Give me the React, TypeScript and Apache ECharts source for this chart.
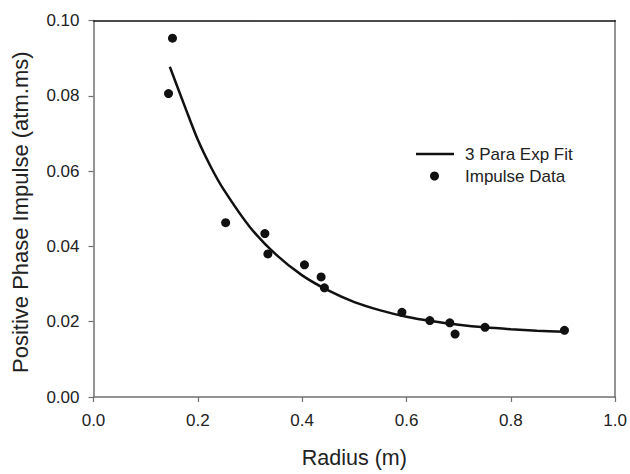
import React, { useEffect, useRef } from "react";
import * as echarts from "echarts";

const impulseRadius = [0.1514, 0.1438, 0.2533, 0.3285, 0.3343, 0.4044, 0.4363, 0.4426, 0.5912, 0.6447, 0.683, 0.6931, 0.7505, 0.9028];
const impulseValue = [0.0953, 0.0806, 0.0463, 0.0434, 0.038, 0.0351, 0.0319, 0.029, 0.0225, 0.0203, 0.0197, 0.0167, 0.0185, 0.0177];

const fitRadius = [0.1463, 0.175, 0.2, 0.225, 0.25, 0.3, 0.35, 0.4, 0.45, 0.5, 0.55, 0.6, 0.65, 0.7, 0.75, 0.8, 0.85, 0.9028];
const fitValue = [0.0877, 0.0772, 0.0683, 0.0611, 0.055, 0.0451, 0.0378, 0.0323, 0.0283, 0.0252, 0.023, 0.0213, 0.0201, 0.0192, 0.0185, 0.018, 0.0176, 0.0173];

const xTicks = [0, 0.2, 0.4, 0.6, 0.8, 1.0];
const yTicks = [0, 0.02, 0.04, 0.06, 0.08, 0.1];

const seriesNames = ["3 Para Exp Fit", "Impulse Data"];

const FONT = "'Liberation Sans', Arial, sans-serif";
const AXIS_GRAY = "#707070";
const INK = "#111111";

export default function App() {
  const ref = useRef<HTMLDivElement>(null);
  useEffect(() => {
    if (!ref.current) return;
    const chart = echarts.init(ref.current, undefined, { renderer: "svg" });
    chart.setOption({
      animation: false,
      backgroundColor: "#ffffff",
      textStyle: { fontFamily: FONT },
      grid: { left: 93.5, right: 13.5, top: 20.5, bottom: 71.5, containLabel: false },
      xAxis: [
        {
          type: "value",
          min: xTicks[0],
          max: xTicks[xTicks.length - 1],
          interval: 0.2,
          name: "Radius (m)",
          nameLocation: "middle",
          nameGap: 50,
          nameTextStyle: { fontSize: 21.5, color: "#222", fontFamily: FONT },
          axisLine: { show: true, onZero: false, lineStyle: { color: AXIS_GRAY, width: 1.5 } },
          axisTick: { show: true, inside: false, length: 5, lineStyle: { color: AXIS_GRAY, width: 1.2 } },
          axisLabel: { fontSize: 17, color: "#222", margin: 15, fontFamily: FONT, formatter: (v: number) => v.toFixed(1) },
          splitLine: { show: false },
        },
        {
          type: "value",
          position: "top",
          min: 0,
          max: 1,
          axisLine: { show: true, onZero: false, lineStyle: { color: "#111", width: 1.5 } },
          axisTick: { show: false },
          axisLabel: { show: false },
          splitLine: { show: false },
        },
      ],
      yAxis: [
        {
          type: "value",
          min: yTicks[0],
          max: yTicks[yTicks.length - 1],
          interval: 0.02,
          name: "Positive Phase Impulse (atm.ms)",
          nameLocation: "middle",
          nameGap: 62,
          nameTextStyle: { fontSize: 22, color: "#222", fontFamily: FONT, padding: [0, 7, 0, 0] },
          axisLine: { show: true, onZero: false, lineStyle: { color: AXIS_GRAY, width: 1.5 } },
          axisTick: { show: true, inside: false, length: 5, lineStyle: { color: AXIS_GRAY, width: 1.2 } },
          axisLabel: { fontSize: 17, color: "#222", margin: 14, fontFamily: FONT, formatter: (v: number) => v.toFixed(2) },
          splitLine: { show: false },
        },
        {
          type: "value",
          position: "right",
          min: 0,
          max: 0.1,
          axisLine: { show: true, onZero: false, lineStyle: { color: AXIS_GRAY, width: 1.5 } },
          axisTick: { show: false },
          axisLabel: { show: false },
          splitLine: { show: false },
        },
      ],
      series: [
        {
          name: seriesNames[0],
          type: "line",
          xAxisIndex: 0,
          yAxisIndex: 0,
          smooth: 0.3,
          showSymbol: false,
          lineStyle: { color: INK, width: 2.5 },
          data: fitRadius.map((x, i) => [x, fitValue[i]]),
        },
        {
          name: seriesNames[1],
          type: "scatter",
          xAxisIndex: 0,
          yAxisIndex: 0,
          symbol: "circle",
          symbolSize: 9,
          itemStyle: { color: INK, opacity: 1 },
          data: impulseRadius.map((x, i) => [x, impulseValue[i]]),
        },
      ],
      graphic: [
        {
          type: "line",
          shape: { x1: 416, y1: 154, x2: 454, y2: 154 },
          style: { stroke: INK, lineWidth: 2.5 },
        },
        {
          type: "text",
          x: 465,
          y: 154.5,
          style: { text: seriesNames[0], fontSize: 17, fontFamily: FONT, fill: "#222", verticalAlign: "middle" },
        },
        {
          type: "circle",
          shape: { cx: 434.5, cy: 176, r: 4.5 },
          style: { fill: INK },
        },
        {
          type: "text",
          x: 465,
          y: 176.5,
          style: { text: seriesNames[1], fontSize: 17, fontFamily: FONT, fill: "#222", verticalAlign: "middle" },
        },
      ],
    });
    return () => chart.dispose();
  }, []);
  return (
    <div
      ref={ref}
      style={{ position: "fixed", left: 0, top: 0, width: 630, height: 474, background: "#fff" }}
    />
  );
}
